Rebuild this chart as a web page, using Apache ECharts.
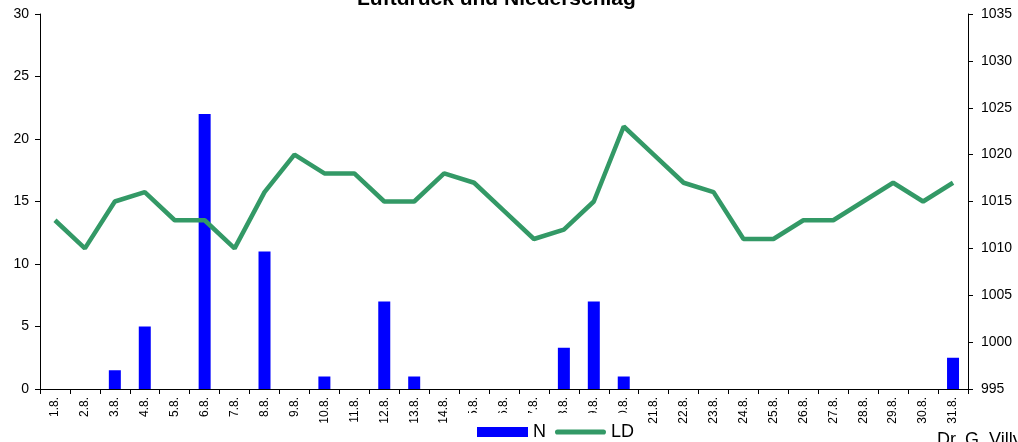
<html>
<head>
<meta charset="utf-8">
<script src="https://cdn.jsdelivr.net/npm/echarts@6/dist/echarts.min.js"></script>
</head>
<body style="margin: 0; padding: 0; background: #fff;">
<div id="myChart" style="width: 1018px; height: 442px;"></div>
<script type="text/javascript">
var days = ['1.8.', '2.8.', '3.8.', '4.8.', '5.8.', '6.8.', '7.8.', '8.8.', '9.8.', '10.8.',
	'11.8.', '12.8.', '13.8.', '14.8.', '15.8.', '16.8.', '17.8.', '18.8.', '19.8.', '20.8.',
	'21.8.', '22.8.', '23.8.', '24.8.', '25.8.', '26.8.', '27.8.', '28.8.', '29.8.', '30.8.', '31.8.'];
// Niederschlag (mm)
var niederschlag = [0, 0, 1.5, 5, 0, 22, 0, 11, 0, 1,
	0, 7, 1, 0, 0, 0, 0, 3.3, 7, 1,
	0, 0, 0, 0, 0, 0, 0, 0, 0, 0, 2.5];
// Luftdruck (hPa)
var luftdruck = [1013, 1010, 1015, 1016, 1013, 1013, 1010, 1016, 1020, 1018,
	1018, 1015, 1015, 1018, 1017, 1014, 1011, 1012, 1015, 1023,
	1020, 1017, 1016, 1011, 1011, 1013, 1013, 1015, 1017, 1015, 1017];
var titleText = 'Luftdruck und Niederschlag';
var footText = 'Dr. G. Villy';

var fontFam = 'Liberation Sans, Arial, sans-serif';
var option = {
	animation: false,
	title: {
		text: titleText,
		left: 352,
		top: -16,
		textStyle: {fontFamily: fontFam, fontSize: 21, fontWeight: 'bold', color: '#000'}
	},
	legend: {
		left: 468,
		top: 413,
		padding: [10, 4, 6, 9],
		backgroundColor: '#fff',
		itemGap: 9,
		itemWidth: 51,
		itemHeight: 10,
		textStyle: {fontFamily: fontFam, fontSize: 18, color: '#000'},
		data: [
			{name: 'N', icon: 'rect'},
			{name: 'LD', icon: 'path://M2.6,0 L49.4,0 A2.6,2.6 0 0 1 49.4,5.2 L2.6,5.2 A2.6,2.6 0 0 1 2.6,0 Z'}
		]
	},
	grid: {left: 40, right: 50, top: 14, bottom: 53},
	xAxis: {
		type: 'category',
		data: days,
		axisLine: {lineStyle: {color: '#000', width: 1}},
		axisTick: {show: true, length: 5, lineStyle: {color: '#000'}},
		axisLabel: {rotate: 90, margin: 8, fontFamily: fontFam, fontSize: 12, color: '#000', interval: 0}
	},
	yAxis: [
		{
			type: 'value', min: 0, max: 30, interval: 5,
			axisLine: {show: true, lineStyle: {color: '#000'}},
			axisTick: {show: true, length: 5, lineStyle: {color: '#000'}},
			splitLine: {show: false},
			axisLabel: {fontFamily: fontFam, fontSize: 14, color: '#000', margin: 11}
		},
		{
			type: 'value', min: 995, max: 1035, interval: 5,
			axisLine: {show: true, lineStyle: {color: '#000'}},
			axisTick: {show: true, length: 5, lineStyle: {color: '#000'}},
			splitLine: {show: false},
			axisLabel: {fontFamily: fontFam, fontSize: 14, color: '#000', margin: 13,
				formatter: function (v) { return String(v); }}
		}
	],
	series: [
		{
			name: 'N', type: 'bar', yAxisIndex: 0, barWidth: 12,
			itemStyle: {color: '#0000ff'},
			data: niederschlag
		},
		{
			name: 'LD', type: 'line', yAxisIndex: 1, symbol: 'none', z: 3,
			lineStyle: {color: '#339966', width: 4.5},
			itemStyle: {color: '#339966'},
			data: luftdruck
		}
	],
	graphic: [
		{type: 'text', left: 937, top: 431, z: 10,
			style: {text: footText, fontFamily: fontFam, fontSize: 18, fill: '#000'}}
	]
};
echarts.init(document.getElementById('myChart')).setOption(option);
</script>
</body>
</html>
